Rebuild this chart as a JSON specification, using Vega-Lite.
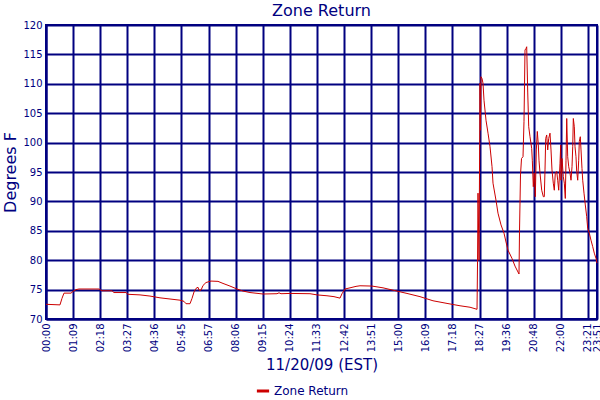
{
  "$schema": "https://vega.github.io/schema/vega-lite/v6.json",
  "width": 551,
  "height": 294,
  "autosize": "none",
  "padding": {"left": 46, "top": 25, "right": 3, "bottom": 81},
  "background": "white",
  "title": {"text": "Zone Return", "color": "#000080", "font": "DejaVu Sans", "fontSize": 16, "fontWeight": "normal", "anchor": "middle", "offset": 1},
  "config": {
    "view": {"stroke": "#000080", "strokeWidth": 2},
    "axis": {"domainColor": "#000080", "gridColor": "#000080", "gridWidth": 2, "gridOpacity": 1, "ticks": false, "labelColor": "#000080", "labelFont": "DejaVu Sans", "labelFontSize": 10, "titleColor": "#000080", "titleFont": "DejaVu Sans", "titleFontWeight": "normal", "domainWidth": 2},
    "legend": {"labelColor": "#000080", "labelFont": "DejaVu Sans", "labelFontSize": 12}
  },
  "data": {"values": [
    {"t": 0, "temp": 72.5}, {"t": 35.6, "temp": 72.4}, {"t": 40.7, "temp": 73.5}, {"t": 45.8, "temp": 74.4},
    {"t": 63.7, "temp": 74.4}, {"t": 68.8, "temp": 74.7}, {"t": 76.4, "temp": 75.0}, {"t": 84.0, "temp": 75.1},
    {"t": 134.9, "temp": 75.1}, {"t": 137.5, "temp": 75.0}, {"t": 142.6, "temp": 74.8}, {"t": 168.1, "temp": 74.8},
    {"t": 173.1, "temp": 74.5}, {"t": 203.7, "temp": 74.5}, {"t": 208.8, "temp": 74.2}, {"t": 239.4, "temp": 74.1},
    {"t": 264.8, "temp": 73.9}, {"t": 290.3, "temp": 73.6}, {"t": 315.8, "temp": 73.4}, {"t": 341.2, "temp": 73.2},
    {"t": 351.4, "temp": 73.0}, {"t": 356.5, "temp": 72.6}, {"t": 366.7, "temp": 72.6}, {"t": 371.8, "temp": 73.5},
    {"t": 376.9, "temp": 74.6}, {"t": 381.9, "temp": 75.2}, {"t": 387.0, "temp": 75.4}, {"t": 389.6, "temp": 74.9},
    {"t": 394.7, "temp": 74.9}, {"t": 399.8, "temp": 75.7}, {"t": 407.4, "temp": 76.2}, {"t": 420.1, "temp": 76.45},
    {"t": 437.9, "temp": 76.4}, {"t": 450.7, "temp": 76.05}, {"t": 468.5, "temp": 75.6}, {"t": 486.3, "temp": 75.1},
    {"t": 501.6, "temp": 74.75}, {"t": 519.4, "temp": 74.5}, {"t": 552.5, "temp": 74.25}, {"t": 588.2, "temp": 74.3},
    {"t": 593.3, "temp": 74.45}, {"t": 598.4, "temp": 74.3}, {"t": 621.3, "temp": 74.35}, {"t": 672.2, "temp": 74.3},
    {"t": 690.1, "temp": 74.1}, {"t": 715.5, "temp": 73.95}, {"t": 733.3, "temp": 73.8}, {"t": 748.6, "temp": 73.55},
    {"t": 753.7, "temp": 74.3}, {"t": 761.3, "temp": 75.1}, {"t": 774.1, "temp": 75.3}, {"t": 789.4, "temp": 75.55},
    {"t": 799.6, "temp": 75.65}, {"t": 830.1, "temp": 75.6}, {"t": 858.1, "temp": 75.3}, {"t": 883.6, "temp": 74.9},
    {"t": 919.2, "temp": 74.35}, {"t": 952.3, "temp": 73.8}, {"t": 985.4, "temp": 73.1}, {"t": 1021.1, "temp": 72.65},
    {"t": 1054.2, "temp": 72.25}, {"t": 1079.7, "temp": 72.0}, {"t": 1097.5, "temp": 71.65}, {"t": 1098.8, "temp": 79.75},
    {"t": 1100.0, "temp": 91.4}, {"t": 1102.6, "temp": 80.0}, {"t": 1105.1, "temp": 110.1}, {"t": 1106.4, "temp": 102.1},
    {"t": 1107.6, "temp": 111.2}, {"t": 1110.2, "temp": 110.9}, {"t": 1112.7, "temp": 110.1}, {"t": 1115.3, "temp": 107.2},
    {"t": 1120.4, "temp": 103.8}, {"t": 1125.5, "temp": 101.6}, {"t": 1130.6, "temp": 99.3}, {"t": 1135.7, "temp": 95.9},
    {"t": 1138.2, "temp": 93.1}, {"t": 1145.8, "temp": 90.2}, {"t": 1150.9, "temp": 88.0}, {"t": 1158.6, "temp": 86.0},
    {"t": 1166.2, "temp": 84.6}, {"t": 1171.3, "temp": 83.1}, {"t": 1176.4, "temp": 81.7}, {"t": 1186.6, "temp": 80.3},
    {"t": 1194.2, "temp": 79.0}, {"t": 1204.4, "temp": 77.65}, {"t": 1205.7, "temp": 84.85}, {"t": 1208.2, "temp": 94.5},
    {"t": 1210.8, "temp": 97.3}, {"t": 1214.6, "temp": 97.6}, {"t": 1217.1, "temp": 103.55}, {"t": 1219.7, "temp": 115.75},
    {"t": 1222.2, "temp": 116.0}, {"t": 1224.0, "temp": 116.3}, {"t": 1226.6, "temp": 108.6}, {"t": 1229.1, "temp": 102.7},
    {"t": 1232.4, "temp": 101.0}, {"t": 1236.7, "temp": 99.0}, {"t": 1238.3, "temp": 97.0}, {"t": 1240.8, "temp": 92.5},
    {"t": 1243.4, "temp": 94.8}, {"t": 1245.9, "temp": 90.8}, {"t": 1248.5, "temp": 98.75}, {"t": 1251.0, "temp": 101.9},
    {"t": 1253.6, "temp": 99.6}, {"t": 1255.3, "temp": 97.0}, {"t": 1257.9, "temp": 94.8}, {"t": 1262.2, "temp": 91.9},
    {"t": 1266.3, "temp": 90.8}, {"t": 1268.8, "temp": 90.8}, {"t": 1270.6, "temp": 95.35}, {"t": 1272.4, "temp": 100.7},
    {"t": 1274.9, "temp": 101.3}, {"t": 1277.5, "temp": 98.75}, {"t": 1280.0, "temp": 100.7}, {"t": 1283.3, "temp": 101.6},
    {"t": 1285.9, "temp": 98.75}, {"t": 1288.4, "temp": 95.35}, {"t": 1291.7, "temp": 93.1}, {"t": 1294.3, "temp": 91.9},
    {"t": 1296.8, "temp": 94.8}, {"t": 1300.4, "temp": 95.1}, {"t": 1302.9, "temp": 93.6}, {"t": 1305.5, "temp": 91.9},
    {"t": 1308.8, "temp": 96.5}, {"t": 1310.6, "temp": 99.6}, {"t": 1311.4, "temp": 93.6}, {"t": 1313.9, "temp": 97.3},
    {"t": 1317.2, "temp": 94.2}, {"t": 1319.8, "temp": 93.1}, {"t": 1322.3, "temp": 90.5}, {"t": 1324.1, "temp": 97.0},
    {"t": 1325.9, "temp": 104.1}, {"t": 1328.4, "temp": 97.6}, {"t": 1331.0, "temp": 95.9}, {"t": 1334.3, "temp": 94.8},
    {"t": 1336.8, "temp": 93.6}, {"t": 1339.4, "temp": 95.9}, {"t": 1341.2, "temp": 99.3}, {"t": 1342.7, "temp": 104.1},
    {"t": 1345.2, "temp": 102.7}, {"t": 1347.0, "temp": 99.3}, {"t": 1349.5, "temp": 97.6}, {"t": 1351.3, "temp": 95.1},
    {"t": 1353.9, "temp": 93.6}, {"t": 1356.4, "temp": 97.0}, {"t": 1357.9, "temp": 100.2}, {"t": 1360.5, "temp": 101.0},
    {"t": 1362.3, "temp": 98.75}, {"t": 1364.8, "temp": 95.6}, {"t": 1366.6, "temp": 93.6}, {"t": 1369.9, "temp": 91.4},
    {"t": 1373.2, "temp": 89.4}, {"t": 1376.8, "temp": 87.4}, {"t": 1379.3, "temp": 85.4}, {"t": 1383.4, "temp": 84.6},
    {"t": 1387.7, "temp": 83.4}, {"t": 1392.1, "temp": 82.3}, {"t": 1396.1, "temp": 81.2}, {"t": 1400.5, "temp": 80.3},
    {"t": 1403, "temp": 79.5}
  ]},
  "transform": [{"calculate": "'Zone Return'", "as": "series"}],
  "mark": {"type": "line", "strokeWidth": 1, "interpolate": "linear"},
  "encoding": {
    "x": {
      "field": "t", "type": "quantitative",
      "scale": {"domain": [0, 1403], "nice": false, "zero": false},
      "axis": {
        "title": "11/20/09 (EST)", "titleFontSize": 15, "titlePadding": 6,
        "values": [0, 69, 138, 207, 276, 345, 414, 483, 552, 621, 690, 759, 828, 897, 966, 1035, 1104, 1173, 1242, 1311, 1380, 1403],
        "labelExpr": "datum.value >= 1400 ? '23:51' : ['00:00','01:09','02:18','03:27','04:36','05:45','06:57','08:06','09:15','10:24','11:33','12:42','13:51','15:00','16:09','17:18','18:27','19:36','20:48','22:00','23:21'][round(datum.value / 69)]",
        "labelAngle": 270, "labelOverlap": false, "labelPadding": 4, "labelFlush": false
      }
    },
    "y": {
      "field": "temp", "type": "quantitative",
      "scale": {"domain": [70, 120], "nice": false, "zero": false},
      "axis": {"title": "Degrees F", "titleFontSize": 16, "values": [70, 75, 80, 85, 90, 95, 100, 105, 110, 115, 120], "labelPadding": 4, "titlePadding": 4, "labelFlush": false}
    },
    "color": {
      "field": "series", "type": "nominal",
      "scale": {"range": ["#CC0000"]},
      "legend": {"title": null, "orient": "none", "legendX": 209, "legendY": 358, "direction": "horizontal", "symbolType": "stroke", "symbolStrokeWidth": 3, "symbolSize": 150, "labelOffset": 3}
    }
  }
}
